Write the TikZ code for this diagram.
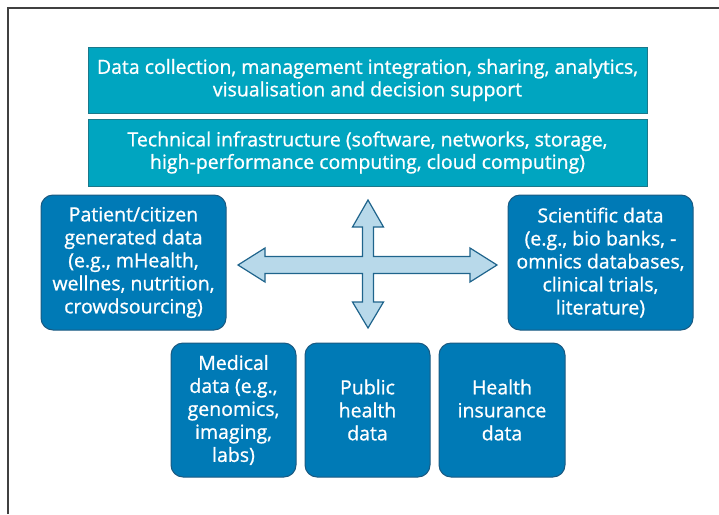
\documentclass[tikz,border=0pt]{standalone}
\usepackage{fontspec}
\setmainfont{Open Sans}
\newfontfamily\boxfont{Open Sans}[FakeBold=0.9]
\definecolor{tealbox}{RGB}{0,165,192}
\definecolor{tealline}{RGB}{27,120,138}
\definecolor{bluebox}{RGB}{0,122,182}
\definecolor{blueline}{RGB}{26,90,130}
\definecolor{arrowfill}{RGB}{184,217,234}
\definecolor{arrowline}{RGB}{31,100,140}
\tikzset{
  layerbox/.style={rectangle, draw=tealline, fill=tealbox, line width=1pt, text=white,
    minimum width=559pt, align=center, font=\boxfont\fontsize{19.5}{22.5}\selectfont},
  sourcebox/.style={rectangle, rounded corners=12pt, draw=blueline, fill=bluebox, line width=1pt,
    text=white, align=center, font=\boxfont\fontsize{19.5}{23}\selectfont},
}
\begin{document}
\begin{tikzpicture}[x=1pt, y=-1pt]
            \useasboundingbox (0,0) rectangle (719,514);
            % frame
            \draw[black!75, line width=1.3pt] (8,514) -- (8,8) -- (719,8);

            % Nodes
            \node (collect) [layerbox, minimum height=66pt] at (367.5, 80) {Data collection, management integration, sharing, analytics,\\visualisation and decision support};
            \node (infra) [layerbox, minimum height=67pt] at (367.5, 152.5) {Technical infrastructure (software, networks, storage,\\high-performance computing, cloud computing)};
            \node (patient) [sourcebox, minimum width=185pt, minimum height=135pt] at (133.5, 262.5) {Patient/citizen\\generated data\\(e.g., mHealth,\\wellnes, nutrition,\\crowdsourcing)};
            \node (science) [sourcebox, minimum width=185pt, minimum height=135pt] at (600.5, 262.5) {Scientific data\\(e.g., bio banks, -\\omnics databases,\\clinical trials,\\literature)};
            \node (medical) [sourcebox, minimum width=125pt, minimum height=134pt] at (233.5, 410) {Medical\\data (e.g.,\\genomics,\\imaging,\\labs)};
            \node (public) [sourcebox, minimum width=125pt, minimum height=134pt] at (367.5, 410) {Public\\health\\data};
            \node (insur) [sourcebox, minimum width=126pt, minimum height=134pt] at (502, 410) {Health\\insurance\\data};

            % four-way arrow
            \draw[arrowline, fill=arrowfill, line width=1.2pt, line join=miter]
              (368,200) -- (383.5,227) -- (373.5,227) -- (373.5,256.5) -- (470,256.5) -- (470,248)
              -- (497,265) -- (470,282) -- (470,273.5) -- (373.5,273.5) -- (373.5,302) -- (383.5,302)
              -- (368,328) -- (352.5,302) -- (362.5,302) -- (362.5,273.5) -- (265,273.5) -- (265,282)
              -- (238,265) -- (265,248) -- (265,256.5) -- (362.5,256.5) -- (362.5,227) -- (352.5,227) -- cycle;

        \end{tikzpicture}
\end{document}
